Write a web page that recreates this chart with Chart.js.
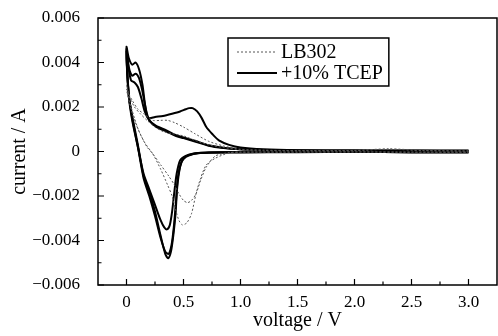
<!DOCTYPE html>
<html>
<head>
<meta charset="utf-8">
<script src="https://cdn.jsdelivr.net/npm/chart.js@4.4.1/dist/chart.umd.min.js"></script>
<style>
  body { margin: 0; background: #fff; }
  #wrap { width: 498px; height: 336px; position: relative; }
</style>
</head>
<body>
<div id="wrap"><canvas id="cvChart"></canvas></div>
<script>
// axis ticks
const xTickValues = [0, 0.5, 1.0, 1.5, 2.0, 2.5, 3.0];
const xTickLabels = ['0', '0.5', '1.0', '1.5', '2.0', '2.5', '3.0'];
const xMinorTicks = [0.25, 0.75, 1.25, 1.75, 2.25, 2.75];
const yTickValues = [-0.006, -0.004, -0.002, 0, 0.002, 0.004, 0.006];
const yTickLabels = ['\u22120.006', '\u22120.004', '\u22120.002', '0', '0.002', '0.004', '0.006'];
const yMinorTicks = [-0.005, -0.003, -0.001, 0.001, 0.003, 0.005];

const seriesNames = ['LB302', '+10% TCEP'];

// LB302 cycles (voltage / V, current / A), sweep 3.0 -> 0 -> 3.0
const lbCycle1V = [3.0, 2.6, 2.3, 2.0, 1.5, 1.2, 1.0, 0.85, 0.72, 0.6, 0.5, 0.42, 0.36, 0.3, 0.23, 0.15, 0.1, 0.05, 0.02, 0,
                   0.03, 0.07, 0.11, 0.16, 0.23, 0.3, 0.37, 0.42, 0.46, 0.5, 0.535, 0.57, 0.61, 0.65, 0.7, 0.78, 0.9, 1.0, 1.5, 2.0, 2.5, 3.0];
const lbCycle1I = [0.00002, 0.00005, 0.00012, 0.00005, 0.00004, 0.00006, 0.0001, 0.00025, 0.00046, 0.0008, 0.0011, 0.0013, 0.0014, 0.0014, 0.0014, 0.0017, 0.0019, 0.0023, 0.0026, 0.003,
                   0.0022, 0.0015, 0.0009, 0.0004, -0.0001, -0.0006, -0.0011, -0.0015, -0.0019, -0.0022, -0.0023, -0.0022, -0.0019, -0.0013, -0.0007, -0.0002, -0.00005, -0.00003, -0.00003, -0.00002, -0.00003, -0.00003];
const lbCycle2V = [3.0, 2.6, 2.3, 2.0, 1.5, 1.2, 1.0, 0.85, 0.72, 0.6, 0.5, 0.4, 0.32, 0.25, 0.18, 0.12, 0.07, 0.03, 0,
                   0.03, 0.07, 0.12, 0.18, 0.23, 0.3, 0.36, 0.4, 0.43, 0.46, 0.49, 0.53, 0.57, 0.61, 0.65, 0.7, 0.78, 0.9, 1.0, 1.5, 2.0, 2.5, 3.0];
const lbCycle2I = [0.00002, 0.00004, 0.0001, 0.00004, 0.00004, 0.00005, 0.00008, 0.00018, 0.0003, 0.0005, 0.0007, 0.0008, 0.0009, 0.0011, 0.0014, 0.0017, 0.002, 0.0024, 0.0028,
                   0.0021, 0.0014, 0.0008, 0.0002, -0.0001, -0.0008, -0.0015, -0.002, -0.0026, -0.0031, -0.0033, -0.0032, -0.0028, -0.0019, -0.0012, -0.0006, -0.0003, -0.00006, -0.00003, -0.00002, -0.00002, -0.00003, -0.00003];

// +10% TCEP cycles
const tcCycle1V = [3.0, 2.5, 2.0, 1.5, 1.2, 1.0, 0.9, 0.81, 0.75, 0.7, 0.66, 0.62, 0.58, 0.55, 0.52, 0.47, 0.4, 0.32, 0.25, 0.2, 0.18, 0.16, 0.14, 0.11, 0.08, 0.05, 0.02, 0,
                   0.02, 0.05, 0.1, 0.15, 0.2, 0.25, 0.3, 0.34, 0.365, 0.39, 0.41, 0.43, 0.445, 0.47, 0.5, 0.55, 0.62, 0.72, 0.85, 1.0, 1.5, 2.0, 2.5, 3.0];
const tcCycle1I = [0.00003, 0.00004, 0.00004, 0.00006, 0.0001, 0.00018, 0.0003, 0.0005, 0.0008, 0.0011, 0.0015, 0.0018, 0.00195, 0.00195, 0.0019, 0.0018, 0.0017, 0.0016, 0.00155, 0.0015, 0.0016, 0.0022, 0.003, 0.0037, 0.004, 0.0039, 0.0042, 0.0047,
                   0.0025, 0.0016, 0.0003, -0.0011, -0.0018, -0.0027, -0.0038, -0.0046, -0.0048, -0.0045, -0.0038, -0.0028, -0.0016, -0.0007, -0.0003, -0.00015, -0.00008, -0.00005, -0.00004, -0.00003, -0.00003, -0.00002, -0.00003, -0.00003];
const tcCycle2V = [3.0, 2.5, 2.0, 1.5, 1.2, 1.0, 0.85, 0.72, 0.6, 0.5, 0.43, 0.35, 0.26, 0.2, 0.17, 0.14, 0.11, 0.08, 0.05, 0.02, 0,
                   0.02, 0.05, 0.1, 0.15, 0.2, 0.25, 0.3, 0.34, 0.37, 0.395, 0.415, 0.435, 0.45, 0.48, 0.52, 0.58, 0.65, 0.75, 0.9, 1.0, 1.5, 2.0, 2.5, 3.0];
const tcCycle2I = [0.00003, 0.00003, 0.00004, 0.00005, 0.00007, 0.0001, 0.00016, 0.00026, 0.00045, 0.0006, 0.0007, 0.0009, 0.0011, 0.0014, 0.0019, 0.0027, 0.0033, 0.0035, 0.0034, 0.0038, 0.0046,
                   0.0026, 0.0015, 0.0002, -0.0012, -0.002, -0.0029, -0.0039, -0.0045, -0.0046, -0.0042, -0.0034, -0.0022, -0.0012, -0.0005, -0.00025, -0.00012, -0.00007, -0.00004, -0.00003, -0.00003, -0.00002, -0.00002, -0.00003, -0.00003];
const tcCycle3V = [3.0, 2.5, 2.0, 1.5, 1.2, 1.0, 0.85, 0.72, 0.6, 0.5, 0.43, 0.35, 0.26, 0.2, 0.16, 0.13, 0.1, 0.07, 0.04, 0.02, 0,
                   0.02, 0.05, 0.1, 0.15, 0.2, 0.25, 0.3, 0.33, 0.355, 0.38, 0.4, 0.42, 0.44, 0.47, 0.52, 0.58, 0.65, 0.75, 0.9, 1.0, 1.5, 2.0, 2.5, 3.0];
const tcCycle3I = [0.00003, 0.00003, 0.00003, 0.00005, 0.00007, 0.0001, 0.00017, 0.00028, 0.00048, 0.00063, 0.00074, 0.00095, 0.00115, 0.0014, 0.0018, 0.0024, 0.0029, 0.0031, 0.0032, 0.0037, 0.0045,
                   0.0025, 0.0014, 0.0002, -0.001, -0.0017, -0.0024, -0.0031, -0.0034, -0.0035, -0.0033, -0.0027, -0.0018, -0.001, -0.0004, -0.0002, -0.0001, -0.00006, -0.00004, -0.00003, -0.00003, -0.00002, -0.00002, -0.00003, -0.00003];

const serif = 'Liberation Serif';

function toPoints(v, i) {
  return v.map((x, k) => ({ x: x, y: i[k] }));
}

function lbSet(v, i) {
  return { label: seriesNames[0], data: toPoints(v, i), showLine: true, pointRadius: 0,
    borderColor: '#555', borderWidth: 1, borderDash: [2, 2], tension: 0.25 };
}
function tcSet(v, i) {
  return { label: seriesNames[1], data: toPoints(v, i), showLine: true, pointRadius: 0,
    borderColor: '#000', borderWidth: 2, tension: 0.25 };
}

// frame + inward ticks, like the original plot
const framePlugin = {
  id: 'frame',
  afterDraw(chart) {
    const ctx = chart.ctx;
    const a = chart.chartArea;
    const xs = chart.scales.x, ys = chart.scales.y;
    ctx.save();
    ctx.strokeStyle = '#000';
    ctx.lineWidth = 1.5;
    ctx.strokeRect(a.left, a.top, a.right - a.left, a.bottom - a.top);
    ctx.lineWidth = 1.2;
    ctx.beginPath();
    xTickValues.forEach(v => { const p = xs.getPixelForValue(v); ctx.moveTo(p, a.bottom); ctx.lineTo(p, a.bottom - 6); });
    xMinorTicks.forEach(v => { const p = xs.getPixelForValue(v); ctx.moveTo(p, a.bottom); ctx.lineTo(p, a.bottom - 3.5); });
    yTickValues.forEach(v => { const p = ys.getPixelForValue(v); ctx.moveTo(a.left, p); ctx.lineTo(a.left + 6, p); });
    yMinorTicks.forEach(v => { const p = ys.getPixelForValue(v); ctx.moveTo(a.left, p); ctx.lineTo(a.left + 3.5, p); });
    ctx.stroke();
    ctx.restore();
  }
};

// boxed legend inside the plot
const boxLegendPlugin = {
  id: 'boxLegend',
  afterDraw(chart) {
    const ctx = chart.ctx;
    const font = '20px "' + serif + '"';
    const rows = [52, 73];
    ctx.save();
    ctx.font = font;
    let w = 0;
    seriesNames.forEach(n => { w = Math.max(w, ctx.measureText(n).width); });
    const bx = 228, by = 38, textX = 281;
    ctx.fillStyle = '#fff';
    ctx.fillRect(bx, by, textX + w + 6 - bx, 48);
    ctx.strokeStyle = '#000';
    ctx.lineWidth = 1.5;
    ctx.strokeRect(bx, by, textX + w + 6 - bx, 48);
    seriesNames.forEach((n, k) => {
      const ds = chart.data.datasets.find(d => d.label === n);
      ctx.strokeStyle = ds.borderColor;
      ctx.lineWidth = ds.borderWidth;
      ctx.setLineDash(ds.borderDash || []);
      ctx.beginPath();
      ctx.moveTo(237, rows[k]);
      ctx.lineTo(277, rows[k]);
      ctx.stroke();
      ctx.setLineDash([]);
      ctx.fillStyle = '#000';
      ctx.textBaseline = 'middle';
      ctx.fillText(n, textX, rows[k] + 1);
    });
    ctx.restore();
  }
};

new Chart(document.getElementById('cvChart'), {
  type: 'scatter',
  data: {
    datasets: [
      lbSet(lbCycle1V, lbCycle1I),
      lbSet(lbCycle2V, lbCycle2I),
      tcSet(tcCycle1V, tcCycle1I),
      tcSet(tcCycle2V, tcCycle2I),
      tcSet(tcCycle3V, tcCycle3I)
    ]
  },
  options: {
    responsive: true,
    maintainAspectRatio: false,
    animation: false,
    layout: { padding: { top: 18, right: 1, left: 0, bottom: 0 } },
    plugins: { legend: { display: false }, tooltip: { enabled: false } },
    scales: {
      x: {
        type: 'linear', min: -0.25, max: 3.25,
        grid: { display: false, drawTicks: false },
        border: { display: false },
        afterBuildTicks: s => { s.ticks = xTickValues.map(v => ({ value: v })); },
        afterFit: s => { s.height = 51; },
        ticks: {
          padding: 7, color: '#000', maxRotation: 0,
          font: { family: serif, size: 17 },
          callback: (v, i) => xTickLabels[i]
        },
        title: { display: true, text: 'voltage / V', color: '#000',
          font: { family: serif, size: 20 }, padding: { top: 0, bottom: 3 } }
      },
      y: {
        type: 'linear', min: -0.006, max: 0.006,
        // hidden tick length keeps labels away from the axis without extra top padding
        grid: { display: false, drawTicks: true, tickLength: 16 },
        border: { display: false },
        afterBuildTicks: s => { s.ticks = yTickValues.map(v => ({ value: v })); },
        afterFit: s => { s.width = 98; },
        ticks: {
          padding: 2, color: '#000',
          font: { family: serif, size: 17 },
          callback: (v, i) => yTickLabels[i]
        },
        title: { display: true, text: 'current / A', color: '#000',
          font: { family: serif, size: 20 }, padding: { top: 8, bottom: 0 } }
      }
    }
  },
  plugins: [framePlugin, boxLegendPlugin]
});
</script>
</body>
</html>
